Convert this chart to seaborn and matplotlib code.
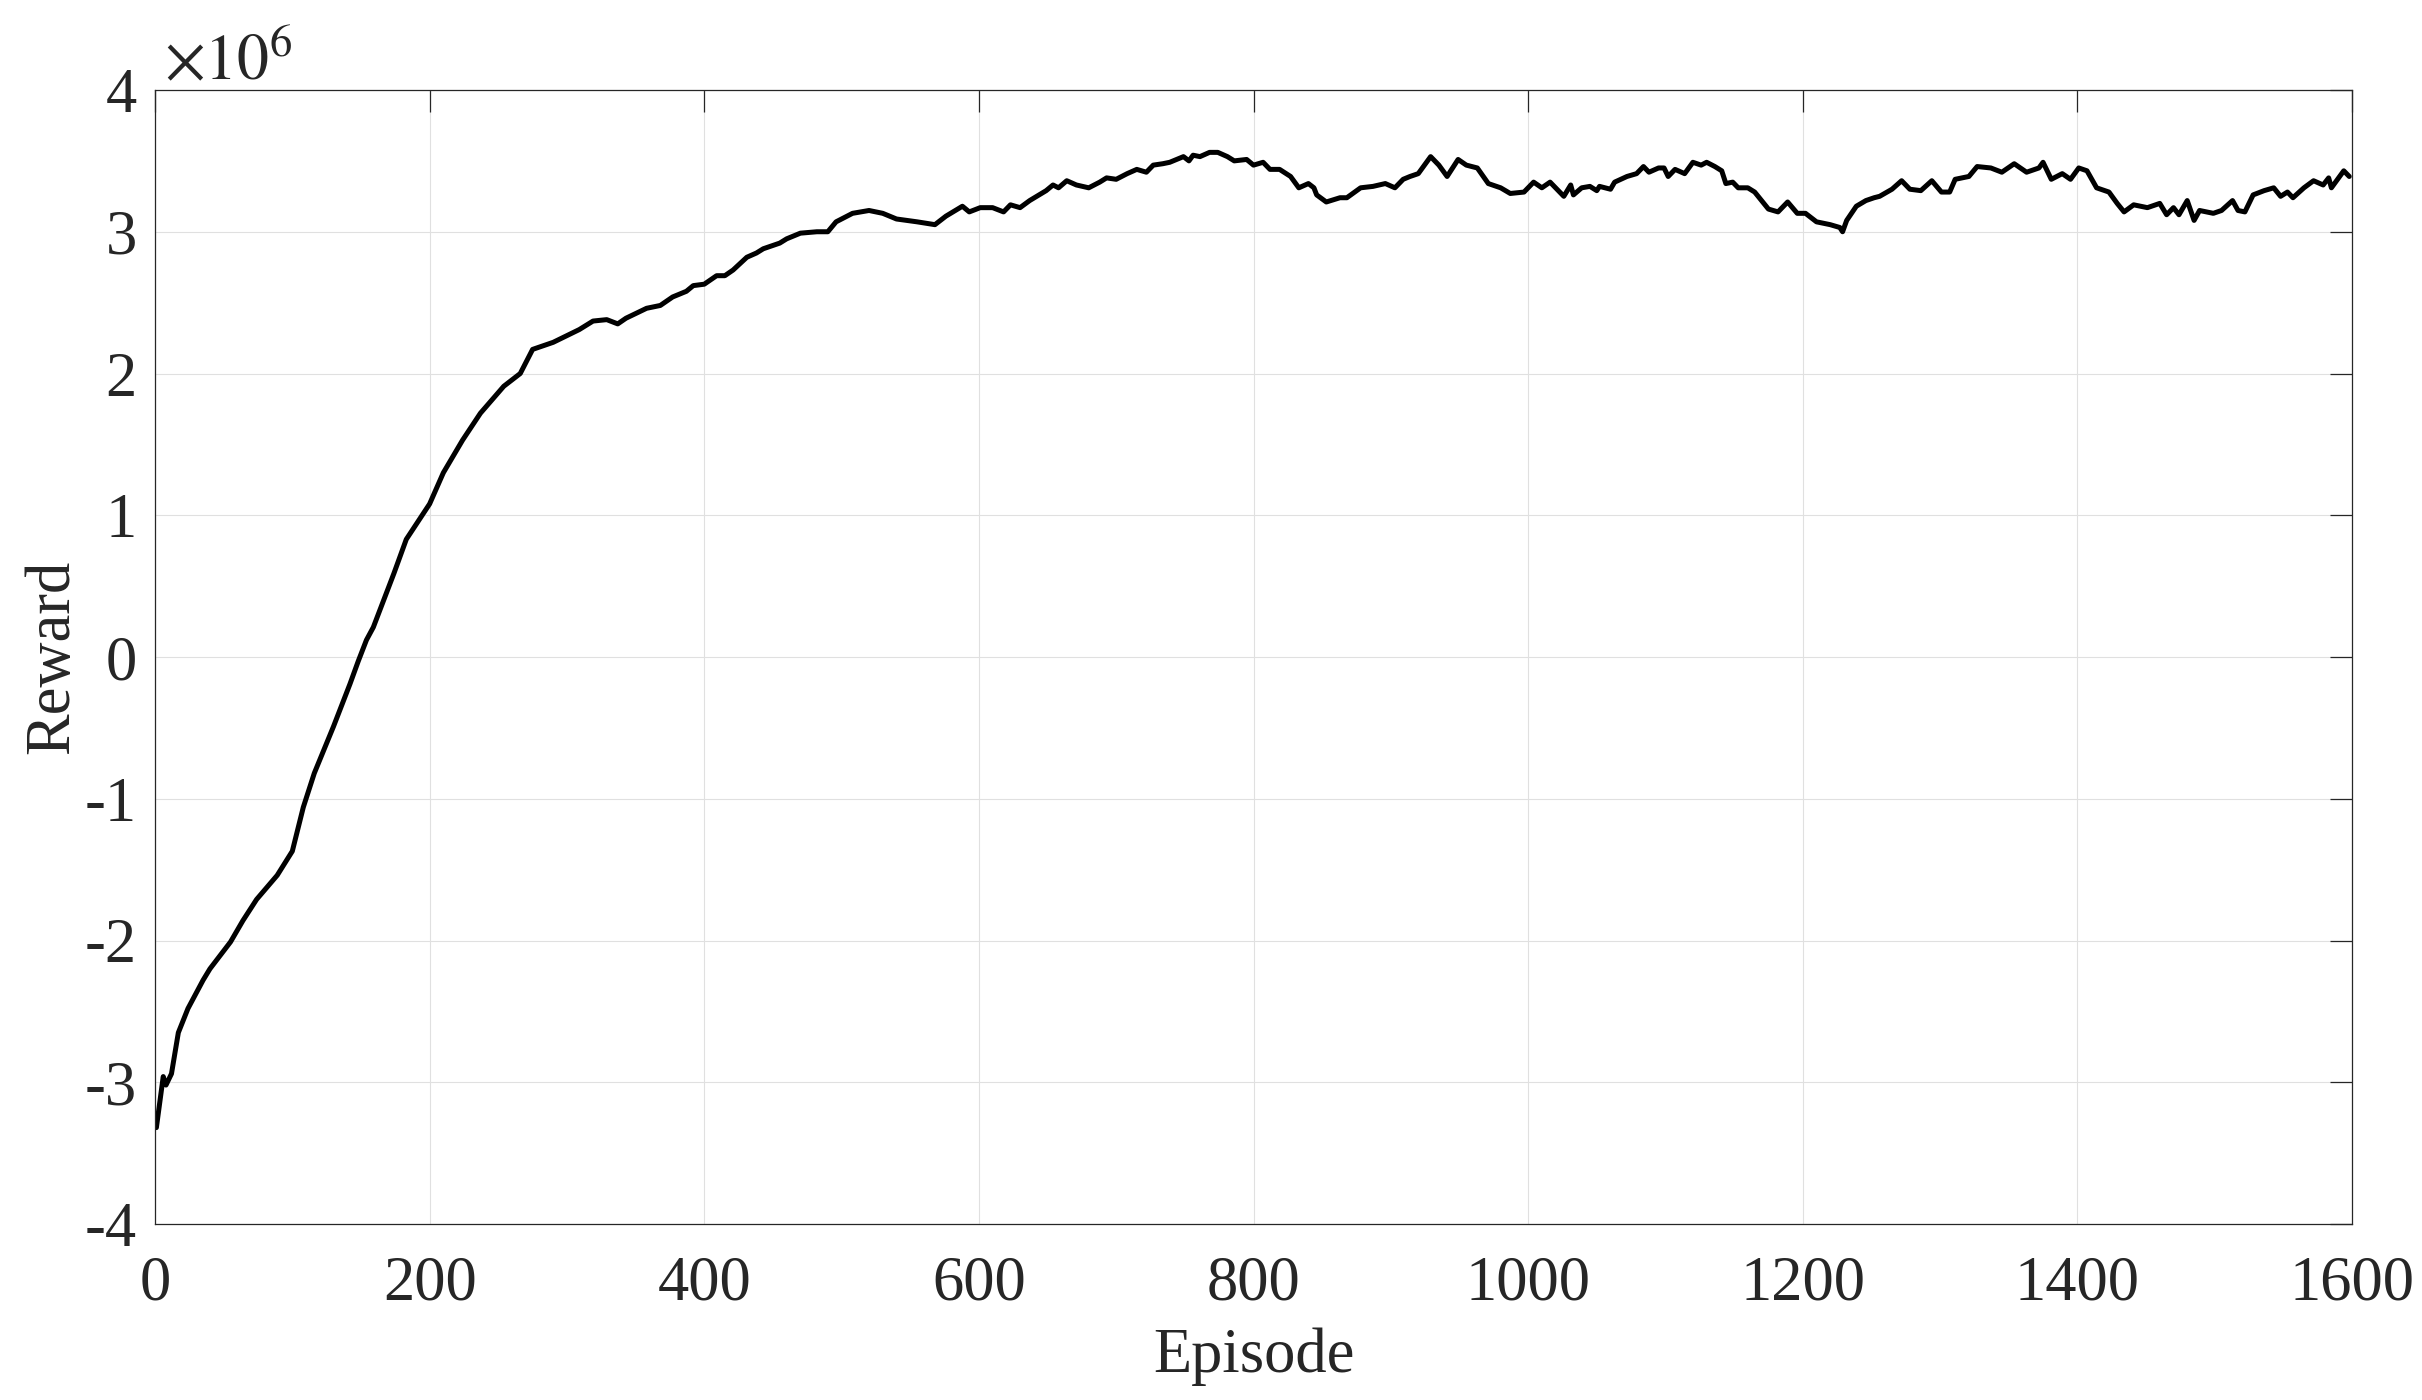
import numpy as np
import pandas as pd
import matplotlib
matplotlib.use("Agg")
import matplotlib.pyplot as plt
import seaborn as sns
from matplotlib.ticker import FuncFormatter

# ---- data (reward in units of 1e6) ----
episodes = [1, 6, 8, 12, 17, 24, 35, 40, 55, 64, 74, 89, 100, 108, 116, 130, 142, 148, 154, 159,
            174, 183, 200, 210, 224, 237, 254, 266, 275, 290, 309, 319, 329, 337, 343, 358, 368, 377,
            387, 392, 400, 409, 415, 421, 431, 438, 443, 455, 460, 470, 482, 490, 496, 508, 520, 530,
            540, 555, 568, 576, 588, 593, 601, 610, 618, 623, 630, 637, 649, 654, 658, 664, 671, 680,
            688, 693, 700, 708, 715, 722, 727, 734, 739, 749, 753, 756, 761, 768, 774, 781, 786, 795,
            800, 807, 812, 819, 827, 833, 840, 844, 846, 853, 863, 868, 878, 887, 896, 903, 909, 914,
            920, 929, 935, 941, 949, 955, 963, 971, 980, 987, 997, 1004, 1010, 1016, 1026, 1031, 1033,
            1039, 1045, 1050, 1052, 1060, 1063, 1072, 1079, 1084, 1088, 1095, 1099, 1102, 1107, 1114,
            1120, 1126, 1130, 1136, 1141, 1144, 1149, 1153, 1160, 1165, 1175, 1182, 1189, 1196, 1202,
            1210, 1220, 1227, 1229, 1232, 1239, 1246, 1252, 1256, 1265, 1272, 1278, 1286, 1294, 1301,
            1307, 1311, 1321, 1327, 1337, 1345, 1354, 1363, 1372, 1375, 1381, 1389, 1395, 1401, 1407,
            1414, 1423, 1429, 1434, 1441, 1451, 1460, 1465, 1470, 1474, 1480, 1485, 1489, 1499, 1505,
            1513, 1517, 1522, 1528, 1536, 1543, 1548, 1553, 1557, 1565, 1572, 1579, 1583, 1585, 1594,
            1598]
reward_m = [-3.32, -2.96, -3.02, -2.94, -2.65, -2.48, -2.28, -2.20, -2.01, -1.86, -1.71, -1.54, -1.37,
            -1.06, -0.82, -0.49, -0.19, -0.03, 0.12, 0.21, 0.59, 0.83, 1.08, 1.30, 1.53, 1.72, 1.91,
            2.00, 2.17, 2.22, 2.31, 2.37, 2.38, 2.35, 2.39, 2.46, 2.48, 2.54, 2.58, 2.62, 2.63, 2.69,
            2.69, 2.73, 2.82, 2.85, 2.88, 2.92, 2.95, 2.99, 3.00, 3.00, 3.07, 3.13, 3.15, 3.13, 3.09,
            3.07, 3.05, 3.11, 3.18, 3.14, 3.17, 3.17, 3.14, 3.19, 3.17, 3.22, 3.29, 3.33, 3.31, 3.36,
            3.33, 3.31, 3.35, 3.38, 3.37, 3.41, 3.44, 3.42, 3.47, 3.48, 3.49, 3.53, 3.50, 3.54, 3.53,
            3.56, 3.56, 3.53, 3.50, 3.51, 3.47, 3.49, 3.44, 3.44, 3.39, 3.31, 3.34, 3.31, 3.26, 3.21,
            3.24, 3.24, 3.31, 3.32, 3.34, 3.31, 3.37, 3.39, 3.41, 3.53, 3.47, 3.39, 3.51, 3.47, 3.45,
            3.34, 3.31, 3.27, 3.28, 3.35, 3.31, 3.35, 3.25, 3.33, 3.26, 3.31, 3.32, 3.29, 3.32, 3.30,
            3.35, 3.39, 3.41, 3.46, 3.42, 3.45, 3.45, 3.39, 3.44, 3.41, 3.49, 3.47, 3.49, 3.46, 3.43,
            3.34, 3.35, 3.31, 3.31, 3.28, 3.16, 3.14, 3.21, 3.13, 3.13, 3.07, 3.05, 3.03, 3.00, 3.08,
            3.18, 3.22, 3.24, 3.25, 3.30, 3.36, 3.30, 3.29, 3.36, 3.28, 3.28, 3.37, 3.39, 3.46, 3.45,
            3.42, 3.48, 3.42, 3.45, 3.49, 3.37, 3.41, 3.37, 3.45, 3.43, 3.31, 3.28, 3.20, 3.14, 3.19,
            3.17, 3.20, 3.12, 3.17, 3.12, 3.22, 3.08, 3.15, 3.13, 3.15, 3.22, 3.15, 3.14, 3.26, 3.29,
            3.31, 3.25, 3.28, 3.24, 3.31, 3.36, 3.33, 3.38, 3.31, 3.43, 3.39]
x_ticks = [0, 200, 400, 600, 800, 1000, 1200, 1400, 1600]
y_ticks_m = [-4, -3, -2, -1, 0, 1, 2, 3, 4]
x_label = "Episode"
y_label = "Reward"
scale = 1e6

df = pd.DataFrame({"Episode": episodes, "Reward": np.array(reward_m) * scale})

sns.set_style("white")
plt.rcParams["font.family"] = ["Liberation Serif", "DejaVu Serif"]
plt.rcParams["mathtext.fontset"] = "stix"
plt.rcParams["axes.unicode_minus"] = False

TXT = "#262626"
fig = plt.figure(figsize=(24.22, 14.0), dpi=100)
ax = fig.add_axes([155 / 2422, 1 - 1224 / 1400, (2352 - 155) / 2422, (1224 - 90) / 1400])

sns.lineplot(data=df, x="Episode", y="Reward", ax=ax, color="black", linewidth=3.6,
             estimator=None, sort=False)

ax.set_xlim(0, 1600)
ax.set_ylim(-4 * scale, 4 * scale)
ax.set_xticks(x_ticks)
ax.set_yticks([v * scale for v in y_ticks_m])
ax.yaxis.set_major_formatter(FuncFormatter(lambda v, p: f"{v / scale:.0f}"))

ax.grid(True, color="#e0e0e0", linewidth=0.8)
ax.set_axisbelow(True)
for s in ax.spines.values():
    s.set_visible(True)
    s.set_color(TXT)
    s.set_linewidth(0.9)

ax.tick_params(axis="both", which="major", direction="in", length=15.8, width=0.9,
               color=TXT, labelcolor=TXT, labelsize=45, top=True, right=True)
ax.tick_params(axis="x", pad=23)
ax.tick_params(axis="y", pad=13)

ax.set_xlabel(x_label, fontsize=45, color=TXT, labelpad=10)
ax.set_ylabel(y_label, fontsize=45, color=TXT, labelpad=2)

ax.annotate(r"$\times10^{6}$", xy=(0, 1), xycoords="axes fraction",
            xytext=(6.5, 8), textcoords="offset points", ha="left", va="baseline",
            fontsize=46, color=TXT)

fig.savefig("out.png", dpi=100, facecolor="white")
